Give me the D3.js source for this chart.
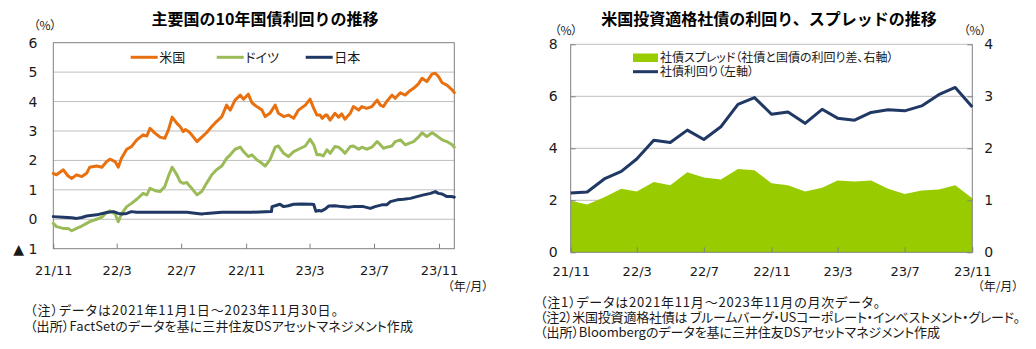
<!DOCTYPE html>
<html>
<head>
<meta charset="utf-8">
<script src="https://cdn.jsdelivr.net/npm/d3@7"></script>
<style>
  html, body { margin: 0; padding: 0; background: #fff; }
  svg text { fill: #1a1a1a; }
  .jp { font-family: "Noto Sans CJK JP", "Noto Sans", sans-serif; font-feature-settings: "palt"; }
  .num { font-family: "DejaVu Sans", Verdana, sans-serif; font-size: 13px; }
  .title { font-family: "Noto Sans CJK JP", sans-serif; font-weight: 700; font-size: 16px; fill: #000; }
</style>
</head>
<body>
<svg id="chart" width="1036" height="349"></svg>
<script>
// ---- 10-year government bond yields (%), daily-ish readings ----
const usYield = [
  ["2021-11-01",1.56],["2021-11-07",1.51],["2021-11-20",1.68],["2021-11-29",1.47],["2021-12-06",1.39],
  ["2021-12-15",1.51],["2021-12-25",1.45],["2022-01-03",1.56],["2022-01-09",1.77],["2022-01-22",1.81],
  ["2022-02-01",1.77],["2022-02-10",1.96],["2022-02-16",2.04],["2022-02-26",1.96],["2022-03-04",1.77],
  ["2022-03-10",2.07],["2022-03-20",2.38],["2022-03-29",2.47],["2022-04-08",2.70],["2022-04-20",2.87],
  ["2022-04-27",2.83],["2022-05-03",3.09],["2022-05-13",2.92],["2022-05-22",2.79],["2022-05-31",2.75],
  ["2022-06-07",3.04],["2022-06-14",3.47],["2022-06-23",3.26],["2022-06-29",3.15],["2022-07-05",2.98],
  ["2022-07-09",3.05],["2022-07-15",2.98],["2022-07-21",2.87],["2022-07-31",2.64],["2022-08-09",2.79],
  ["2022-08-18",2.94],["2022-08-28",3.15],["2022-09-06",3.32],["2022-09-16",3.49],["2022-09-25",3.88],
  ["2022-10-02",3.71],["2022-10-11",4.05],["2022-10-21",4.22],["2022-10-27",4.08],["2022-11-05",4.25],
  ["2022-11-12",3.96],["2022-11-21",3.83],["2022-12-01",3.71],["2022-12-07",3.49],["2022-12-16",3.60],
  ["2022-12-26",3.88],["2023-01-01",3.60],["2023-01-11",3.49],["2023-01-20",3.54],["2023-01-30",3.43],
  ["2023-02-08",3.71],["2023-02-21",3.88],["2023-03-02",4.08],["2023-03-09",3.77],["2023-03-15",3.54],
  ["2023-03-21",3.54],["2023-03-25",3.43],["2023-03-31",3.54],["2023-04-03",3.54],["2023-04-09",3.37],
  ["2023-04-18",3.60],["2023-04-25",3.47],["2023-05-01",3.58],["2023-05-07",3.40],["2023-05-17",3.60],
  ["2023-05-23",3.83],["2023-06-02",3.71],["2023-06-08",3.83],["2023-06-17",3.77],["2023-06-27",3.83],
  ["2023-07-07",4.05],["2023-07-13",3.88],["2023-07-19",3.83],["2023-07-25",4.00],["2023-08-04",4.22],
  ["2023-08-10",4.11],["2023-08-20",4.30],["2023-08-29",4.22],["2023-09-05",4.34],["2023-09-14",4.45],
  ["2023-09-23",4.60],["2023-09-30",4.79],["2023-10-09",4.68],["2023-10-19",4.94],["2023-10-25",4.96],
  ["2023-10-31",4.85],["2023-11-07",4.64],["2023-11-16",4.56],["2023-11-26",4.40],["2023-11-30",4.30]
];
const deYield = [
  ["2021-11-01",-0.14],["2021-11-07",-0.25],["2021-11-20",-0.31],["2021-11-29",-0.31],["2021-12-06",-0.39],
  ["2021-12-15",-0.31],["2021-12-25",-0.23],["2022-01-03",-0.14],["2022-01-09",-0.08],["2022-01-22",0.00],
  ["2022-02-01",0.07],["2022-02-10",0.23],["2022-02-16",0.29],["2022-02-26",0.18],["2022-03-04",-0.08],
  ["2022-03-10",0.18],["2022-03-20",0.43],["2022-03-29",0.54],["2022-04-08",0.68],["2022-04-20",0.88],
  ["2022-04-27",0.83],["2022-05-03",1.05],["2022-05-13",0.97],["2022-05-22",0.94],["2022-05-31",1.11],
  ["2022-06-07",1.47],["2022-06-14",1.77],["2022-06-23",1.51],["2022-06-29",1.28],["2022-07-05",1.22],
  ["2022-07-12",1.25],["2022-07-15",1.17],["2022-07-21",1.05],["2022-07-31",0.83],["2022-08-09",0.94],
  ["2022-08-18",1.22],["2022-08-28",1.51],["2022-09-06",1.68],["2022-09-16",1.81],["2022-09-25",2.07],
  ["2022-10-02",2.19],["2022-10-11",2.38],["2022-10-21",2.45],["2022-10-27",2.30],["2022-11-05",2.13],
  ["2022-11-12",2.19],["2022-11-21",2.02],["2022-12-01",1.90],["2022-12-07",1.81],["2022-12-16",2.02],
  ["2022-12-26",2.45],["2023-01-01",2.49],["2023-01-11",2.24],["2023-01-20",2.13],["2023-01-30",2.30],
  ["2023-02-08",2.38],["2023-02-21",2.49],["2023-03-02",2.72],["2023-03-09",2.53],["2023-03-15",2.19],
  ["2023-03-21",2.20],["2023-03-27",2.15],["2023-04-03",2.36],["2023-04-09",2.24],["2023-04-18",2.47],
  ["2023-04-25",2.45],["2023-05-01",2.36],["2023-05-07",2.24],["2023-05-17",2.47],["2023-05-23",2.49],
  ["2023-06-02",2.38],["2023-06-08",2.45],["2023-06-17",2.38],["2023-06-27",2.45],["2023-07-07",2.64],
  ["2023-07-13",2.53],["2023-07-19",2.41],["2023-07-25",2.45],["2023-08-04",2.49],["2023-08-10",2.64],
  ["2023-08-20",2.70],["2023-08-29",2.53],["2023-09-05",2.58],["2023-09-14",2.64],["2023-09-23",2.79],
  ["2023-09-30",2.94],["2023-10-09",2.81],["2023-10-19",2.94],["2023-10-25",2.87],["2023-10-31",2.79],
  ["2023-11-07",2.70],["2023-11-16",2.64],["2023-11-26",2.53],["2023-11-30",2.45]
];
const jpYield = [
  ["2021-11-01",0.09],["2021-11-20",0.07],["2021-12-06",0.05],["2021-12-15",0.03],["2021-12-25",0.06],
  ["2022-01-03",0.11],["2022-01-22",0.15],["2022-02-10",0.23],["2022-02-23",0.26],["2022-03-04",0.20],
  ["2022-03-10",0.18],["2022-03-20",0.20],["2022-03-29",0.26],["2022-04-08",0.24],["2022-05-03",0.24],
  ["2022-05-31",0.24],["2022-07-12",0.24],["2022-07-31",0.20],["2022-08-09",0.18],["2022-08-18",0.20],
  ["2022-09-16",0.24],["2022-10-11",0.24],["2022-11-12",0.24],["2022-12-19",0.26],["2022-12-20",0.43],
  ["2022-12-26",0.46],["2023-01-04",0.51],["2023-01-11",0.43],["2023-01-20",0.46],["2023-01-30",0.51],
  ["2023-02-14",0.52],["2023-03-05",0.51],["2023-03-09",0.50],["2023-03-13",0.27],["2023-03-18",0.30],
  ["2023-03-23",0.28],["2023-03-31",0.35],["2023-04-06",0.45],["2023-04-18",0.46],["2023-05-01",0.43],
  ["2023-05-14",0.41],["2023-05-23",0.43],["2023-06-11",0.43],["2023-06-24",0.37],["2023-07-03",0.43],
  ["2023-07-16",0.49],["2023-07-25",0.49],["2023-08-01",0.60],["2023-08-14",0.66],["2023-08-26",0.68],
  ["2023-09-08",0.71],["2023-09-20",0.77],["2023-10-03",0.83],["2023-10-16",0.88],["2023-10-25",0.94],
  ["2023-10-31",0.88],["2023-11-07",0.86],["2023-11-16",0.77],["2023-11-26",0.77],["2023-11-30",0.75]
];
const leftYTicks = [-1, 0, 1, 2, 3, 4, 5, 6];
const leftGrid = [0, 1, 2, 3, 4, 5];

// ---- US investment-grade corporate bonds, monthly ----
const months = ["2021-11","2021-12","2022-01","2022-02","2022-03","2022-04","2022-05","2022-06","2022-07",
  "2022-08","2022-09","2022-10","2022-11","2022-12","2023-01","2023-02","2023-03","2023-04","2023-05",
  "2023-06","2023-07","2023-08","2023-09","2023-10","2023-11"];
const corpYield = [2.28,2.32,2.82,3.11,3.59,4.31,4.22,4.70,4.34,4.83,5.69,5.95,5.31,5.40,4.96,5.50,5.16,
  5.08,5.38,5.48,5.44,5.63,6.06,6.34,5.59];
const corpSpread = [0.99,0.92,1.06,1.22,1.17,1.35,1.29,1.54,1.44,1.40,1.60,1.58,1.33,1.29,1.17,1.24,1.38,
  1.36,1.38,1.22,1.12,1.19,1.21,1.29,1.04];
const rightLeftTicks = [0, 2, 4, 6, 8];
const rightRightTicks = [0, 1, 2, 3, 4];

const xTickDates = ["2021-11-01","2022-03-01","2022-07-01","2022-11-01","2023-03-01","2023-07-01","2023-11-01"];

const notesL = [
  "（注）データは2021年11月1日～2023年11月30日。",
  "（出所）FactSetのデータを基に三井住友DSアセットマネジメント作成"
];
const notesR = [
  "（注1）データは2021年11月～2023年11月の月次データ。",
  "（注2）米国投資適格社債は ブルームバーグ・USコーポレート・インベストメント・グレード。",
  "（出所）Bloombergのデータを基に三井住友DSアセットマネジメント作成"
];

const parseDay = d3.timeParse("%Y-%m-%d");
const parseMonth = d3.timeParse("%Y-%m");
const fmtYM = d3.timeFormat("%y/%-m");

const svg = d3.select("#chart");
const GRID = "#bfbfbf", AXIS = "#808080";
const C_US = "#e8700e", C_DE = "#9bbb59", C_JP = "#1f3864", C_SPREAD = "#99cc00";

// ================= Left panel =================
const L = { left: 53.3, right: 454.3, top: 42.7, bottom: 248.7 };
const xL = d3.scaleTime().domain([parseDay("2021-11-01"), parseDay("2023-11-30")]).range([L.left, L.right]);
const yL = d3.scaleLinear().domain([-1, 6]).range([L.bottom, L.top]);

svg.append("text").attr("class", "title").attr("x", 265).attr("y", 25).attr("text-anchor", "middle")
  .text("主要国の10年国債利回りの推移");
svg.append("text").attr("class", "jp").attr("x", 45).attr("y", 30).attr("text-anchor", "middle")
  .style("font-size", "12px").text("（%）");

const gL = svg.append("g");
gL.selectAll("line.grid").data(leftGrid).join("line")
  .attr("x1", L.left).attr("x2", L.right).attr("y1", d => yL(d)).attr("y2", d => yL(d))
  .attr("stroke", GRID).attr("stroke-width", 1);
gL.append("rect").attr("x", L.left).attr("y", L.top).attr("width", L.right - L.left).attr("height", L.bottom - L.top)
  .attr("fill", "none").attr("stroke", AXIS).attr("stroke-width", 1);

const lineL = d3.line().x(d => xL(parseDay(d[0]))).y(d => yL(d[1])).curve(d3.curveLinear);
[[usYield, C_US], [deYield, C_DE], [jpYield, C_JP]].forEach(([s, c]) => {
  gL.append("path").datum(s).attr("d", lineL).attr("fill", "none").attr("stroke", c)
    .attr("stroke-width", 3).attr("stroke-linejoin", "round").attr("stroke-linecap", "round");
});

// bottom axis, ticks pointing into the plot
const axL = d3.axisBottom(xL).tickValues(xTickDates.map(parseDay)).tickFormat(fmtYM)
  .tickSizeInner(-5).tickSizeOuter(0);
const axLg = svg.append("g").attr("transform", `translate(0,${L.bottom})`).call(axL);
axLg.select(".domain").remove();
axLg.selectAll(".tick line").attr("stroke", AXIS);
axLg.selectAll(".tick text").attr("class", "num").attr("fill", "#1a1a1a").attr("dy", "0.32em").attr("y", 22);

// left axis labels
const ayL = d3.axisLeft(yL).tickValues(leftYTicks).tickSize(0).tickPadding(16)
  .tickFormat(d => d < 0 ? "▲ " + Math.abs(d) : d);
const ayLg = svg.append("g").attr("transform", `translate(${L.left},0)`).call(ayL);
ayLg.select(".domain").remove();
ayLg.selectAll(".tick text").attr("class", "num").attr("fill", "#1a1a1a").style("font-size", "14px");

svg.append("text").attr("class", "jp").attr("x", 468).attr("y", 291).attr("text-anchor", "middle")
  .style("font-size", "12px").text("（年/月）");

// legend
const legL = [["米国", C_US, 130.7], ["ドイツ", C_DE, 216.7], ["日本", C_JP, 305.7]];
legL.forEach(([name, c, x]) => {
  svg.append("line").attr("x1", x).attr("x2", x + 27).attr("y1", 57.3).attr("y2", 57.3)
    .attr("stroke", c).attr("stroke-width", 3);
  svg.append("text").attr("class", "jp").attr("x", x + 28.5).attr("y", 57.3).attr("dy", "0.36em")
    .style("font-size", "13px").text(name);
});

// footnotes, each line set to its measured run length
const notesLWidth = [308, 383];
notesL.forEach((t, i) => {
  svg.append("text").attr("class", "jp").attr("x", 30).attr("y", 315 + i * 16).style("font-size", "13px")
    .attr("textLength", notesLWidth[i]).attr("lengthAdjust", "spacing").text(t);
});

// ================= Right panel =================
const R = { left: 570.7, right: 972.3, top: 44.3, bottom: 252.3 };
const xR = d3.scaleTime().domain([parseMonth("2021-11"), parseMonth("2023-11")]).range([R.left, R.right]);
const yRL = d3.scaleLinear().domain([0, 8]).range([R.bottom, R.top]);
const yRR = d3.scaleLinear().domain([0, 4]).range([R.bottom, R.top]);

svg.append("text").attr("class", "title").attr("x", 769).attr("y", 25).attr("text-anchor", "middle")
  .text("米国投資適格社債の利回り、スプレッドの推移");
svg.append("text").attr("class", "jp").attr("x", 566).attr("y", 35).attr("text-anchor", "middle")
  .style("font-size", "12px").text("（%）");
svg.append("text").attr("class", "jp").attr("x", 975).attr("y", 35).attr("text-anchor", "middle")
  .style("font-size", "12px").text("（%）");

const gR = svg.append("g");
gR.selectAll("line.grid").data(rightLeftTicks.filter(d => d > 0)).join("line")
  .attr("x1", R.left).attr("x2", R.right).attr("y1", d => yRL(d)).attr("y2", d => yRL(d))
  .attr("stroke", GRID).attr("stroke-width", 1);

const spreadData = months.map((m, i) => ({ date: parseMonth(m), spread: corpSpread[i], yld: corpYield[i] }));
gR.append("path").datum(spreadData)
  .attr("d", d3.area().x(d => xR(d.date)).y0(yRR(0)).y1(d => yRR(d.spread)))
  .attr("fill", C_SPREAD);

// axis lines and inward ticks
gR.append("line").attr("x1", R.left).attr("x2", R.left).attr("y1", R.top).attr("y2", R.bottom).attr("stroke", AXIS);
gR.append("line").attr("x1", R.right).attr("x2", R.right).attr("y1", R.top).attr("y2", R.bottom).attr("stroke", AXIS);

const axR = d3.axisBottom(xR).tickValues(xTickDates.map(parseDay)).tickFormat(fmtYM)
  .tickSizeInner(-5).tickSizeOuter(0);
const axRg = svg.append("g").attr("transform", `translate(0,${R.bottom})`).call(axR);
axRg.select(".domain").attr("stroke", AXIS).attr("d", `M${R.left},0H${R.right}`);
axRg.selectAll(".tick line").attr("stroke", AXIS);
axRg.selectAll(".tick text").attr("class", "num").attr("fill", "#1a1a1a").attr("dy", "0.32em").attr("y", 20);

const ayRL = d3.axisLeft(yRL).tickValues(rightLeftTicks).tickFormat(d3.format("d"))
  .tickSizeInner(-5).tickSizeOuter(0).tickPadding(13);
const ayRLg = svg.append("g").attr("transform", `translate(${R.left},0)`).call(ayRL);
ayRLg.select(".domain").remove();
ayRLg.selectAll(".tick line").attr("stroke", AXIS);
ayRLg.selectAll(".tick text").attr("class", "num").attr("fill", "#1a1a1a").style("font-size", "14px");

const ayRR = d3.axisRight(yRR).tickValues(rightRightTicks).tickFormat(d3.format("d"))
  .tickSizeInner(-5).tickSizeOuter(0).tickPadding(12);
const ayRRg = svg.append("g").attr("transform", `translate(${R.right},0)`).call(ayRR);
ayRRg.select(".domain").remove();
ayRRg.selectAll(".tick line").attr("stroke", AXIS);
ayRRg.selectAll(".tick text").attr("class", "num").attr("fill", "#1a1a1a").style("font-size", "14px");

gR.append("path").datum(spreadData)
  .attr("d", d3.line().x(d => xR(d.date)).y(d => yRL(d.yld)))
  .attr("fill", "none").attr("stroke", C_JP).attr("stroke-width", 3).attr("stroke-linejoin", "round");

svg.append("text").attr("class", "jp").attr("x", 998).attr("y", 291).attr("text-anchor", "middle")
  .style("font-size", "12px").text("（年/月）");

// legend
svg.append("rect").attr("x", 633).attr("y", 53.5).attr("width", 25).attr("height", 8.5).attr("fill", C_SPREAD);
svg.append("text").attr("class", "jp").attr("x", 660).attr("y", 57.8).attr("dy", "0.36em").style("font-size", "12px")
  .text("社債スプレッド（社債と国債の利回り差、右軸）");
svg.append("line").attr("x1", 633).attr("x2", 658).attr("y1", 71.7).attr("y2", 71.7)
  .attr("stroke", C_JP).attr("stroke-width", 3);
svg.append("text").attr("class", "jp").attr("x", 660).attr("y", 71.7).attr("dy", "0.36em").style("font-size", "12px")
  .text("社債利回り（左軸）");

const notesRWidth = [340, 480, 400];
notesR.forEach((t, i) => {
  svg.append("text").attr("class", "jp").attr("x", 540).attr("y", 307 + i * 15).style("font-size", "13px")
    .attr("textLength", notesRWidth[i]).attr("lengthAdjust", "spacing").text(t);
});
</script>
</body>
</html>
